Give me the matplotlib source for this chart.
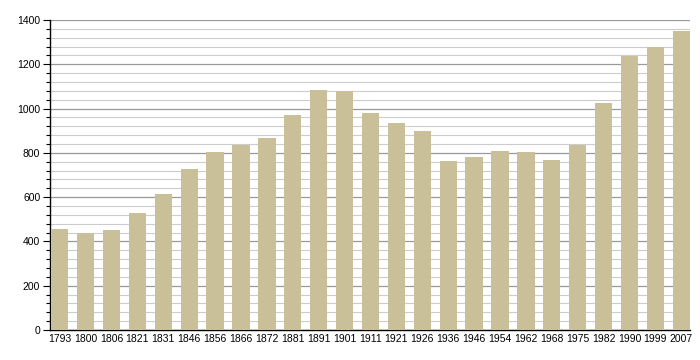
import matplotlib
matplotlib.use("Agg")
import matplotlib.pyplot as plt
from matplotlib.ticker import MultipleLocator

years = ["1793", "1800", "1806", "1821", "1831", "1846", "1856", "1866", "1872",
         "1881", "1891", "1901", "1911", "1921", "1926", "1936", "1946", "1954",
         "1962", "1968", "1975", "1982", "1990", "1999", "2007"]
population = [458, 438, 453, 528, 616, 728, 805, 835, 868, 970, 1085, 1078, 980,
              934, 898, 764, 782, 809, 803, 768, 834, 1026, 1238, 1279, 1352]

plt.rcParams['font.family'] = ['Liberation Sans', 'DejaVu Sans']

fig = plt.figure(figsize=(7, 3.6), dpi=100)
ax = fig.add_axes([50/700, 30/360, 640/700, 310/360])

x = list(range(len(years)))
w = 0.67
ax.bar(x, population, width=w, color="#c9bf98", zorder=3)

ax.set_ylim(0, 1400)
ax.set_xlim(-w/2 - 0.04, len(years) - 1 + w/2)
ax.yaxis.set_major_locator(MultipleLocator(200))
ax.yaxis.set_minor_locator(MultipleLocator(40))
ax.grid(axis='y', which='major', color='#999999', linewidth=0.9, zorder=0)
ax.grid(axis='y', which='minor', color='#cccccc', linewidth=0.8, zorder=0)

ax.set_xticks(x)
ax.set_xticklabels(years)
ax.tick_params(axis='x', length=0, pad=3, labelsize=7.5)
ax.tick_params(axis='y', which='major', length=5, width=0.8, pad=2, labelsize=7.5)
ax.tick_params(axis='y', which='minor', length=3, width=0.8)

for s in ['top', 'right']:
    ax.spines[s].set_visible(False)
ax.spines['left'].set_linewidth(1.0)
ax.spines['bottom'].set_linewidth(1.0)

fig.savefig("out.png", dpi=100)
